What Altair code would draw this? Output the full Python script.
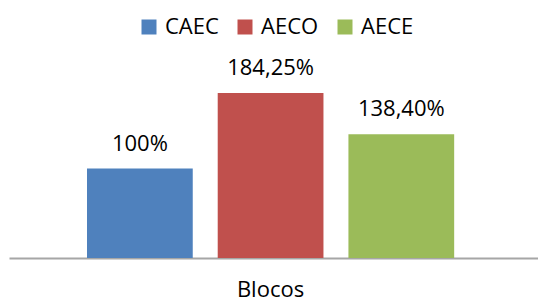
import altair as alt
import pandas as pd

series = ["CAEC", "AECO", "AECE"]
values = [100.0, 184.25, 138.40]
labels = ["100%", "184,25%", "138,40%"]
colors = ["#4F81BD", "#C0504D", "#9BBB59"]

df = pd.DataFrame({"serie": series, "valor": values, "rotulo": labels})

FONT = "Open Sans"

x = alt.X("serie:N", sort=series,
          scale=alt.Scale(paddingInner=0.191, paddingOuter=0.619, align=0.482),
          axis=alt.Axis(labels=False, ticks=False, domainColor="#A6A6A6", domainWidth=2,
                        title="Blocos", titleFont=FONT, titleFontSize=22,
                        titleFontWeight="normal", titleColor="#000000",
                        titleX=261, titleY=38, titleAlign="center",
                        titleBaseline="alphabetic", titleAngle=0))
y = alt.Y("valor:Q", scale=alt.Scale(domain=[0, 200]), axis=None)

bars = alt.Chart(df).mark_bar().encode(
    x=x, y=y,
    color=alt.Color("serie:N", sort=series,
                    scale=alt.Scale(domain=series, range=colors),
                    legend=alt.Legend(orient="none", direction="horizontal",
                                      legendX=129, legendY=-63, title=None,
                                      symbolType="square", symbolSize=225,
                                      symbolStrokeWidth=0, symbolOpacity=1,
                                      labelFont=FONT, labelFontSize=22,
                                      labelColor="#000000", labelOffset=5,
                                      columnPadding=15, padding=0, labelLimit=0)),
)

text = alt.Chart(df).mark_text(font=FONT, fontSize=22, color="#000000",
                               baseline="alphabetic", dy=-18).encode(
    x=x, y=y, text="rotulo:N"
)

chart = alt.layer(bars, text).properties(
    width=529, height=179,
    autosize=alt.AutoSizeParams(type="none"),
    padding={"left": 1, "top": 71, "right": 0, "bottom": 44},
).configure_view(stroke=None)

chart.save("out.html", embed_options={"renderer": "svg", "actions": False})
